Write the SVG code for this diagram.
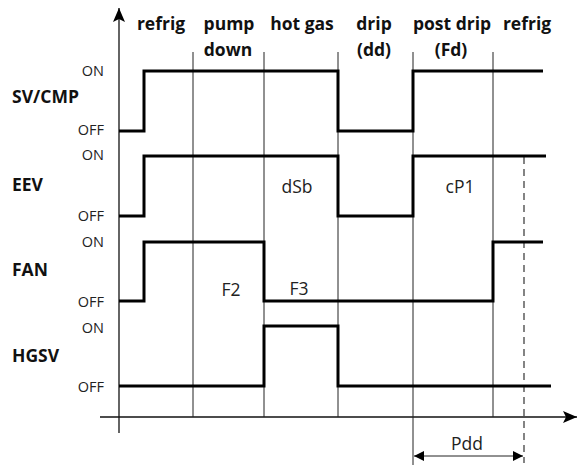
<svg xmlns="http://www.w3.org/2000/svg" width="579" height="465" viewBox="0 0 579 465">
<style>
.bg{fill:#fff}
.grid{stroke:#222;stroke-width:1;fill:none}
.axis{stroke:#111;stroke-width:1.3;fill:none}
.sig{stroke:#000;stroke-width:3;fill:none;stroke-linejoin:miter}
.dash{stroke:#333;stroke-width:1.2;stroke-dasharray:7,5;fill:none}
.hdr{font-family:"Open Sans","DejaVu Sans",sans-serif;font-size:17.5px;font-weight:bold;fill:#111;text-anchor:middle}
.name{font-family:"Open Sans","DejaVu Sans",sans-serif;font-size:17.5px;font-weight:bold;fill:#111}
.lvl{font-family:"Open Sans","DejaVu Sans",sans-serif;font-size:14.5px;fill:#222;text-anchor:end}
.lbl{font-family:"Open Sans","DejaVu Sans",sans-serif;font-size:17.5px;fill:#222;text-anchor:middle}
</style>
<defs>
<marker id="ah" viewBox="0 0 10 10" refX="10" refY="5" markerWidth="10" markerHeight="10" markerUnits="userSpaceOnUse" orient="auto"><path d="M0,0 L10,5 L0,10 z" fill="#000"/></marker>
<marker id="ahs" viewBox="0 0 10 10" refX="0" refY="5" markerWidth="10" markerHeight="10" markerUnits="userSpaceOnUse" orient="auto"><path d="M10,0 L0,5 L10,10 z" fill="#000"/></marker>
<marker id="big" viewBox="0 0 14 12" refX="14" refY="6" markerWidth="14" markerHeight="12" markerUnits="userSpaceOnUse" orient="auto"><path d="M0,0 L14,6 L0,12 L3,6 z" fill="#000"/></marker>
</defs>
<rect class="bg" x="0" y="0" width="579" height="465"/>
<g id="connectors">
<line class="axis" x1="119" y1="433" x2="119" y2="8" marker-end="url(#big)"/>
<line class="axis" x1="100" y1="417" x2="577" y2="417" marker-end="url(#big)"/>
<line class="grid" x1="193" y1="52" x2="193" y2="417"/>
<line class="grid" x1="264" y1="52" x2="264" y2="417"/>
<line class="grid" x1="338" y1="52" x2="338" y2="417"/>
<line class="grid" x1="413" y1="52" x2="413" y2="465"/>
<line class="grid" x1="493" y1="52" x2="493" y2="417"/>
<line class="dash" x1="524" y1="157" x2="524" y2="463"/>
<line class="grid" x1="414" y1="456" x2="523" y2="456" marker-start="url(#ahs)" marker-end="url(#ah)"/>
</g>
<g id="sv-cmp">
<polyline class="sig" points="119,131 144,131 144,71 338,71 338,131 413,131 413,71 543,71"/>
<text class="name" x="12" y="103">SV/CMP</text>
<text class="lvl" x="104" y="76">ON</text>
<text class="lvl" x="104" y="135">OFF</text>
</g>
<g id="eev">
<polyline class="sig" points="119,216 144,216 144,156 338,156 338,216 413,216 413,156 546,156"/>
<text class="name" x="12" y="191">EEV</text>
<text class="lvl" x="104" y="160">ON</text>
<text class="lvl" x="104" y="221">OFF</text>
<text class="lbl" x="297" y="193">dSb</text>
<text class="lbl" x="460" y="193">cP1</text>
</g>
<g id="fan">
<polyline class="sig" points="119,301 144,301 144,242 264,242 264,301 493,301 493,242 543,242"/>
<text class="name" x="12" y="276">FAN</text>
<text class="lvl" x="104" y="247">ON</text>
<text class="lvl" x="104" y="307">OFF</text>
<text class="lbl" x="231" y="296">F2</text>
<text class="lbl" x="299" y="295">F3</text>
</g>
<g id="hgsv">
<polyline class="sig" points="119,386 264,386 264,326 338,326 338,386 551,386"/>
<text class="name" x="12" y="362">HGSV</text>
<text class="lvl" x="104" y="333">ON</text>
<text class="lvl" x="104" y="392">OFF</text>
</g>
<g id="headers">
<text class="hdr" x="161" y="30">refrig</text>
<text class="hdr" x="229" y="30">pump</text>
<text class="hdr" x="228" y="56">down</text>
<text class="hdr" x="302" y="30">hot gas</text>
<text class="hdr" x="374" y="30">drip</text>
<text class="hdr" x="374" y="56">(dd)</text>
<text class="hdr" x="452" y="30">post drip</text>
<text class="hdr" x="451" y="56">(Fd)</text>
<text class="hdr" x="527" y="30">refrig</text>
</g>
<g id="pdd">
<text class="lbl" x="467" y="450">Pdd</text>
</g>
</svg>
